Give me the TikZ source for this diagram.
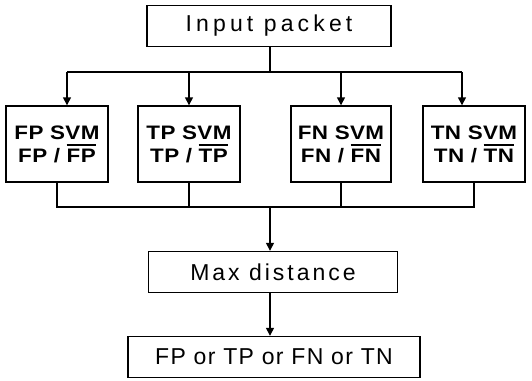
\documentclass[tikz,border=0pt]{standalone}
\usepackage{fontspec}
\setmainfont{Liberation Sans}
\newfontfamily\svmfont{Liberation Sans}[FakeStretch=1.15, LetterSpace=2]
\usetikzlibrary{arrows.meta}
% complement label: text with a bar drawn above it
\newsavebox\barbox
\newcommand\negbar[1]{\sbox\barbox{#1}\rlap{\raisebox{\dimexpr\ht\barbox+2.5pt\relax}{\rule{\wd\barbox}{1.8pt}}}\usebox\barbox}
\begin{document}
\begin{tikzpicture}[x=1pt, y=-1pt,
  line width=1.4pt,
  box/.style={draw, inner sep=0pt, align=center, minimum height=#1},
  box/.default=41pt,
  plain/.style={font=\fontsize{23}{27}\selectfont\addfontfeatures{LetterSpace=#1}},
  svm/.style={box=76pt, minimum width=102pt,
    font=\svmfont\bfseries\fontsize{19.5}{23}\selectfont},
  arr/.style={-{Triangle[length=8pt, width=8pt]}}]
  \useasboundingbox (0,0) rectangle (532,380);

  % boxes
  \node[box, plain=18, minimum width=244pt] (in) at (269,26) {Input packet};
  \node[svm] (fp) at (57,144)  {FP SVM\\FP / \negbar{FP}};
  \node[svm] (tp) at (189,144) {TP SVM\\TP / \negbar{TP}};
  \node[svm, minimum width=100pt] (fn) at (341,144) {FN SVM\\FN / \negbar{FN}};
  \node[svm] (tn) at (474,144) {TN SVM\\TN / \negbar{TN}};
  \node[box, plain=13, minimum width=249pt] (md) at (273,272) {Max distance};
  \node[box, plain=6, minimum width=292pt] (out) at (274,357) {FP or TP or FN or TN};

  % fan-out from the input packet
  \coordinate (split) at (270,72);
  \coordinate (left) at (67,72);
  \coordinate (right) at (462,72);
  \draw (in.south -| split) -- (split);
  \draw (left) -- (right);
  \draw[arr] (left) -- (left |- fp.north);
  \draw[arr] (tp.north |- split) -- (tp.north);
  \draw[arr] (fn.north |- split) -- (fn.north);
  \draw[arr] (right) -- (right |- tn.north);

  % fan-in to the max distance
  \coordinate (join) at (270,207);
  \draw (fp.south) |- (join) -| (tn.south);
  \draw (tp.south) -- (tp.south |- join);
  \draw (fn.south) -- (fn.south |- join);
  \draw[arr] (join) -- (join |- md.north);
  \draw[arr] (md.south -| join) -- (join |- out.north);
\end{tikzpicture}
\end{document}
